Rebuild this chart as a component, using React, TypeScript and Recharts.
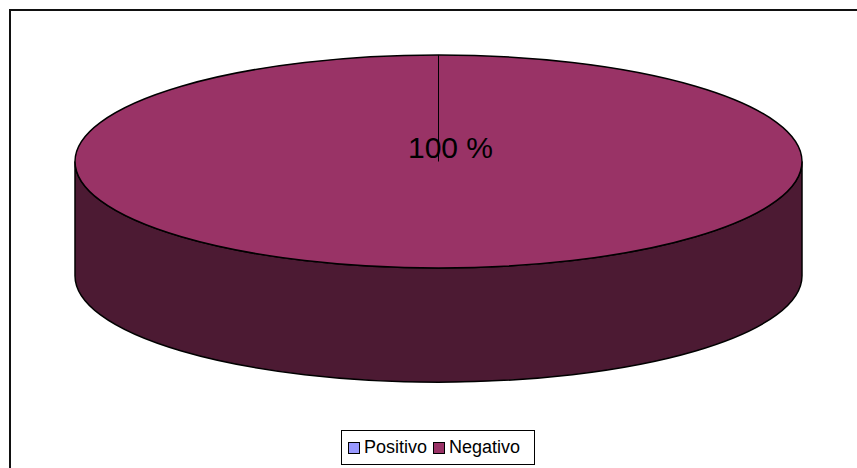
import { PieChart, Pie, Cell, Legend } from "recharts";

const categories = ["Positivo", "Negativo"];
const values = [0, 100];
const topColors = ["#9999FF", "#993366"];
const sideColors = ["#4D4D80", "#4C1A33"];

const data = categories.map((name, i) => ({
  name,
  value: values[i],
  side: sideColors[i],
}));

// ellipse squash and wall height, relative to the pie radius
const TILT = 0.293;
const DEPTH = 0.314;
const RAD = Math.PI / 180;

function Slice3D(props: any) {
  const { cx, cy, outerRadius, startAngle, endAngle, fill, payload } = props;
  const sweep = Math.abs(endAngle - startAngle);
  if (!sweep) return <g />;
  const rx = outerRadius;
  const ry = outerRadius * TILT;
  const d = outerRadius * DEPTH;
  const pt = (a: number) => [cx + rx * Math.cos(-a * RAD), cy + ry * Math.sin(-a * RAD)];
  const [sx, sy] = pt(startAngle);
  const side = payload?.side ?? "#333";

  if (sweep >= 359.99) {
    const wall = `M${cx - rx},${cy} L${cx - rx},${cy + d} A${rx},${ry} 0 0 0 ${cx + rx},${cy + d} L${cx + rx},${cy} A${rx},${ry} 0 0 1 ${cx - rx},${cy} Z`;
    return (
      <g>
        <path d={wall} fill={side} stroke="#000" strokeWidth={1.5} />
        <ellipse cx={cx} cy={cy} rx={rx} ry={ry} fill={fill} stroke="#000" strokeWidth={1.5} />
        <line x1={cx} y1={cy} x2={sx} y2={sy} stroke="#000" strokeWidth={1} />
      </g>
    );
  }

  const [ex, ey] = pt(endAngle);
  const large = sweep > 180 ? 1 : 0;
  const cw = endAngle < startAngle ? 1 : 0;
  return (
    <path
      d={`M${cx},${cy} L${sx},${sy} A${rx},${ry} 0 ${large} ${cw} ${ex},${ey} Z`}
      fill={fill}
      stroke="#000"
      strokeWidth={1}
    />
  );
}

function renderLabel(props: any) {
  const { cx, cy, percent } = props;
  if (!percent) return null;
  return (
    <text x={cx + 12} y={cy - 4} textAnchor="middle" fill="#000" fontSize={30} fontFamily="'Liberation Sans', Arial, sans-serif">
      {`${Math.round(percent * 100)} %`}
    </text>
  );
}

function renderLegend(props: any) {
  const payload = [...(props.payload ?? [])].sort(
    (a: any, b: any) => categories.indexOf(a.value) - categories.indexOf(b.value)
  );
  return (
    <div
      style={{
        boxSizing: "border-box",
        width: 194,
        height: 35,
        border: "1.5px solid #000",
        background: "#fff",
        display: "flex",
        alignItems: "center",
        paddingLeft: 6,
        fontFamily: "'Liberation Sans', Arial, sans-serif",
        fontSize: 18,
        color: "#000",
      }}
    >
      {payload.map((entry: any) => (
        <span key={entry.value} style={{ display: "flex", alignItems: "center", marginRight: 6 }}>
          <span
            style={{
              display: "inline-block",
              width: 10,
              height: 10,
              background: entry.color,
              border: "1px solid #000",
              marginRight: 4,
            }}
          />
          {entry.value}
        </span>
      ))}
    </div>
  );
}

export default function App() {
  return (
    <div style={{ position: "absolute", left: 0, top: 0, width: 857, height: 468, background: "#fff", overflow: "hidden" }}>
      <div
        style={{
          position: "absolute",
          left: 9,
          top: 9,
          width: 900,
          height: 500,
          borderLeft: "2px solid #111",
          borderTop: "2px solid #111",
        }}
      />
      <PieChart width={857} height={468} margin={{ top: 0, right: 0, bottom: 0, left: 0 }} style={{ position: "absolute", left: 0, top: 0 }}>
        <Pie
          data={data}
          dataKey="value"
          nameKey="name"
          cx={438.5}
          cy={161.5}
          outerRadius={363.5}
          startAngle={90}
          endAngle={-270}
          shape={Slice3D}
          label={renderLabel}
          labelLine={false}
          isAnimationActive={false}
        >
          {data.map((_, i) => (
            <Cell key={categories[i]} fill={topColors[i]} />
          ))}
        </Pie>
        <Legend
          content={renderLegend}
          wrapperStyle={{ left: 341, top: 430, bottom: "auto", width: 194, height: 35 }}
        />
      </PieChart>
    </div>
  );
}
